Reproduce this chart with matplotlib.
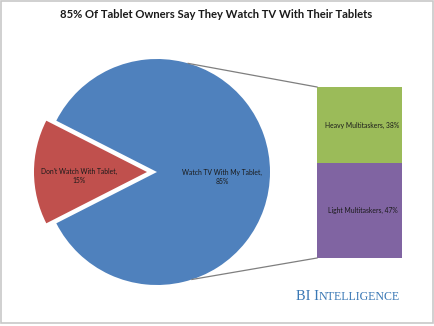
import numpy as np
import matplotlib
matplotlib.use("Agg")
import matplotlib.pyplot as plt

title = "85% Of Tablet Owners Say They Watch TV With Their Tablets"

pie_labels = ["Watch TV With My Tablet,\n85%", "Don't Watch With Tablet,\n15%"]
pie_values = [85, 15]
pie_colors = ["#4f81bd", "#c0504d"]

bar_labels = ["Heavy Multitaskers, 38%", "Light Multitaskers, 47%"]
bar_values = [38, 47]
bar_colors = ["#9bbb59", "#8064a2"]

fig = plt.figure(figsize=(4.35, 3.26), dpi=100)
ax = fig.add_axes([0, 0, 1, 1])

# main pie (pixel coordinates)
cx, cy, r = 157, 172, 113
total = sum(pie_values)
start = 180 - pie_values[1] / total * 360 / 2 - pie_values[0] / total * 360
wedges, _ = ax.pie(pie_values, colors=pie_colors, startangle=start,
                   radius=r, center=(cx, cy), explode=[0, 10],
                   frame=True, wedgeprops=dict(linewidth=0))
ax.set_xlim(0, 435)
ax.set_ylim(326, 0)
ax.set_aspect("equal")
ax.axis("off")

lab_font = dict(family="Lato", fontsize=4.9, color="#1a1a1a", ha="center", va="center",
                linespacing=1.35)
ax.text(222, 177, pie_labels[0], **lab_font)
ax.text(79, 176, pie_labels[1], **lab_font)

# stacked bar for the breakdown
bx, bw, btop, bh = 359.5, 85, 87, 171
scale = bh / sum(bar_values)
bottom = btop
for lab, v, c in zip(bar_labels, bar_values, bar_colors):
    ax.bar(bx, v * scale, bottom=bottom, width=bw, color=c, linewidth=0)
    ax.text(bx + 3, bottom + v * scale / 2, lab, **lab_font)
    bottom += v * scale

# connector lines
for ang, yend in [(74, btop), (-72, btop + bh)]:
    px = cx + r * np.cos(np.radians(ang))
    py = cy - r * np.sin(np.radians(ang))
    ax.plot([px, bx - bw / 2], [py, yend], color="#7f7f7f", lw=0.9)

ax.text(216, 14, title, family="Lato", fontweight="bold", fontsize=8.1,
        ha="center", va="center", color="#1a1a1a")

# logo text in small caps
t1 = ax.text(296, 300.5, "BI I", family="Liberation Serif", fontsize=10.4,
             color="#3a78b5", ha="left", va="baseline")
ax.annotate("NTELLIGENCE", xy=(1, 300.5), xycoords=(t1, "data"),
            family="Liberation Serif", fontsize=8.6, color="#3a78b5",
            ha="left", va="baseline")

# gray frame
ax.add_patch(plt.Rectangle((0.5, 0.5), 433, 322.5, fill=False, ec="#c8c8c8", lw=1.2))

fig.savefig("out.png", dpi=100)
